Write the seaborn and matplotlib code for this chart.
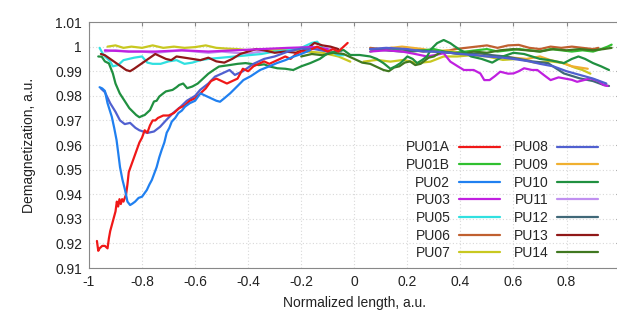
import numpy as np
import pandas as pd
import matplotlib
matplotlib.use("Agg")
import matplotlib.pyplot as plt
import seaborn as sns

nan = np.nan

# demagnetization traces, NaN splits the left/right halves of a sample
pu01a_x = [-0.97, -0.965, -0.96, -0.95, -0.94, -0.93, -0.925, -0.92, -0.91, -0.90, -0.895, -0.89, -0.885,
           -0.88, -0.875, -0.87, -0.86, -0.855, -0.85, -0.84, -0.83, -0.82, -0.81, -0.80, -0.79, -0.78,
           -0.77, -0.76, -0.75, -0.74, -0.72, -0.70, -0.68, -0.66, -0.64, -0.62, -0.60, -0.58, -0.56,
           -0.54, -0.52, -0.50, -0.48, -0.46, -0.44, -0.42, -0.40, -0.38, -0.36, -0.34, -0.32, -0.30,
           -0.28, -0.26, -0.24, -0.22, -0.20, -0.18, -0.16, -0.14, -0.12, -0.10, -0.08, -0.06, -0.04, -0.025]
pu01a_y = [0.921, 0.917, 0.918, 0.919, 0.919, 0.918, 0.922, 0.925, 0.929, 0.933, 0.937, 0.935, 0.938,
           0.936, 0.938, 0.937, 0.940, 0.944, 0.949, 0.952, 0.955, 0.958, 0.961, 0.963, 0.966, 0.965,
           0.968, 0.970, 0.970, 0.971, 0.972, 0.972, 0.973, 0.975, 0.976, 0.978, 0.979, 0.981, 0.983,
           0.986, 0.987, 0.986, 0.985, 0.986, 0.987, 0.991, 0.990, 0.992, 0.993, 0.994, 0.993, 0.994,
           0.995, 0.996, 0.995, 0.997, 0.998, 0.998, 0.999, 1.000, 0.999, 0.998, 0.999, 0.998, 1.000, 1.0015]

pu01b_x = [0.06, 0.10, 0.14, 0.18, 0.22, 0.26, 0.30, 0.34, 0.38, 0.42, 0.46, 0.50, 0.54, 0.58, 0.62,
           0.66, 0.70, 0.74, 0.78, 0.82, 0.86, 0.90, 0.93, 0.955, 0.97]
pu01b_y = [0.998, 0.999, 0.9985, 0.999, 0.998, 0.9985, 0.999, 0.998, 0.9975, 0.998, 0.9985, 0.999, 0.998,
           0.9985, 0.999, 0.9985, 0.998, 0.999, 0.9985, 0.998, 0.9985, 0.998, 0.999, 1.0, 1.0008]

pu02_x = [-0.96, -0.95, -0.94, -0.93, -0.914, -0.905, -0.896, -0.89, -0.883, -0.874, -0.864, -0.855, -0.845,
          -0.836, -0.826, -0.813, -0.80, -0.79, -0.782, -0.772, -0.763, -0.745, -0.735, -0.726, -0.716,
          -0.707, -0.697, -0.688, -0.675, -0.663, -0.65, -0.638, -0.62, -0.60, -0.58, -0.56, -0.54, -0.52,
          -0.506, -0.49, -0.468, -0.44, -0.418, -0.39, -0.355, -0.32, -0.292, -0.26, -0.23, -0.20, -0.166]
pu02_y = [0.9835, 0.983, 0.982, 0.977, 0.9715, 0.967, 0.962, 0.957, 0.951, 0.946, 0.9417, 0.937, 0.9356,
          0.9362, 0.937, 0.9385, 0.939, 0.9405, 0.9417, 0.944, 0.9458, 0.951, 0.955, 0.958, 0.961,
          0.965, 0.967, 0.9695, 0.971, 0.973, 0.974, 0.9756, 0.977, 0.978, 0.981, 0.980, 0.979, 0.978,
          0.9776, 0.979, 0.981, 0.984, 0.9864, 0.988, 0.9905, 0.992, 0.9933, 0.9945, 0.9959, 0.997, 0.9986]

pu03_x = [-0.94, -0.85, -0.75, -0.65, -0.55, -0.45, -0.35, -0.25, -0.16, -0.10, nan,
          0.06, 0.12, 0.18, 0.23, 0.274, 0.30, 0.337, 0.362, 0.39, 0.413, 0.45, 0.475, 0.49, 0.51, 0.53,
          0.55, 0.58, 0.60, 0.62, 0.64, 0.67, 0.69, 0.72, 0.74, 0.77, 0.79, 0.82, 0.84, 0.87, 0.89, 0.92, 0.94, 0.955]
pu03_y = [0.9985, 0.998, 0.998, 0.9985, 0.998, 0.9985, 0.999, 0.9995, 0.9998, 0.999, nan,
          0.998, 0.9985, 0.998, 0.997, 0.996, 0.9965, 0.9973, 0.9939, 0.992, 0.9905, 0.9905, 0.9891, 0.9864, 0.9864, 0.988,
          0.9898, 0.989, 0.9891, 0.990, 0.9912, 0.9905, 0.9905, 0.988, 0.9864, 0.9875, 0.9871, 0.9865, 0.9857, 0.9865, 0.9871, 0.986, 0.9844, 0.984]

pu05_x = [-0.96, -0.95, -0.94, -0.92, -0.91, -0.89, -0.87, -0.85, -0.83, -0.80, -0.78, -0.76, -0.73,
          -0.70, -0.67, -0.64, -0.61, -0.58, -0.55, -0.50, -0.45, -0.40, -0.35, -0.30, -0.25, -0.20,
          -0.16, -0.14, -0.12, -0.09, -0.06, -0.04]
pu05_y = [0.9995, 0.9975, 0.996, 0.994, 0.992, 0.9925, 0.9945, 0.995, 0.9955, 0.996, 0.9935, 0.993, 0.993,
          0.994, 0.9945, 0.993, 0.9935, 0.9945, 0.995, 0.9955, 0.996, 0.9965, 0.997, 0.998, 0.9985, 0.9995,
          1.0015, 1.002, 0.9995, 0.998, 0.9965, 0.9965]

pu06_x = [0.06, 0.10, 0.14, 0.18, 0.22, 0.26, 0.30, 0.34, 0.38, 0.42, 0.46, 0.50, 0.54, 0.58, 0.62,
          0.66, 0.70, 0.74, 0.78, 0.82, 0.86, 0.90, 0.92]
pu06_y = [0.9995, 0.999, 0.9995, 0.999, 0.9985, 0.998, 0.9985, 0.998, 0.999, 0.9995, 1.0, 1.0005, 0.9995,
          1.0005, 1.0007, 0.9995, 0.999, 1.0, 0.9995, 1.0, 0.9995, 0.999, 0.9995]

pu07_x = [-0.93, -0.90, -0.87, -0.84, -0.80, -0.76, -0.72, -0.68, -0.64, -0.60, -0.56, -0.52, -0.48,
          -0.44, -0.40, -0.36, -0.30, -0.24, -0.18, -0.12, -0.06, -0.015, nan,
          0.035, 0.085, 0.136, 0.186, 0.237, 0.287, 0.337, 0.388, 0.44, 0.50, 0.56, 0.62, 0.68, 0.74,
          0.79, 0.83, 0.86, 0.89]
pu07_y = [1.0, 1.0005, 0.9995, 1.0, 0.9995, 1.0005, 0.9995, 1.0, 0.9995, 0.9998, 1.0005, 0.9995, 0.9992,
          0.999, 0.9985, 0.999, 0.9985, 0.9988, 0.998, 0.9975, 0.996, 0.9939, nan,
          0.9939, 0.9946, 0.9939, 0.9946, 0.9933, 0.9939, 0.996, 0.996, 0.9965, 0.996, 0.9946, 0.995, 0.9935, 0.994,
          0.9933, 0.9915, 0.9905, 0.989]

pu08_x = [-0.955, -0.94, -0.92, -0.90, -0.883, -0.865, -0.845, -0.825, -0.81, -0.78, -0.755, -0.732,
          -0.71, -0.683, -0.655, -0.631, -0.60, -0.581, -0.55, -0.525, -0.50, -0.47, -0.45, -0.42, -0.38,
          -0.34, -0.30, -0.25, -0.20, -0.15, -0.10, nan,
          0.06, 0.12, 0.20, 0.26, 0.30, 0.36, 0.40, 0.46, 0.50, 0.56, 0.60, 0.66, 0.70, 0.75, 0.80, 0.85,
          0.90, 0.95]
pu08_y = [0.983, 0.9815, 0.977, 0.9735, 0.970, 0.9685, 0.969, 0.967, 0.966, 0.9649, 0.9655, 0.9674,
          0.970, 0.973, 0.9755, 0.978, 0.980, 0.9824, 0.985, 0.9878, 0.989, 0.9905, 0.9885, 0.990, 0.993,
          0.995, 0.996, 0.998, 0.9992, 0.999, 0.998, nan,
          0.999, 0.9995, 0.999, 0.998, 0.998, 0.9975, 0.997, 0.9965, 0.996, 0.9955, 0.995, 0.994, 0.993,
          0.992, 0.990, 0.9885, 0.987, 0.985]

pu09_x = [0.10, 0.14, 0.18, 0.22, 0.26, 0.30, 0.35, 0.40, 0.45, 0.50, 0.55, 0.60, 0.65, 0.70, 0.74,
          0.78, 0.82, 0.85, 0.88]
pu09_y = [0.999, 0.9995, 1.0, 0.9995, 0.999, 0.998, 0.9985, 0.9975, 0.997, 0.9965, 0.996, 0.9955, 0.995,
          0.996, 0.9945, 0.9935, 0.992, 0.9915, 0.991]

pu10_x = [-0.965, -0.952, -0.94, -0.925, -0.91, -0.90, -0.884, -0.872, -0.86, -0.848, -0.835, -0.822,
          -0.81, -0.80, -0.79, -0.78, -0.77, -0.755, -0.745, -0.735, -0.72, -0.71, -0.685, -0.67, -0.66,
          -0.645, -0.63, -0.61, -0.59, -0.57, -0.55, -0.53, -0.51, -0.49, -0.47, -0.44, -0.41, -0.39,
          -0.36, -0.34, -0.318, -0.29, -0.26, -0.23, -0.20, -0.166, -0.13, -0.10, -0.07, -0.04, -0.015,
          0.02, 0.06, 0.085, 0.11, 0.136, 0.155, 0.174, 0.2, 0.22, 0.237, 0.255, 0.274, 0.29, 0.312,
          0.337, 0.362, 0.38, 0.40, 0.42, 0.44, 0.48, 0.52, 0.56, 0.60, 0.64, 0.67, 0.70, 0.73, 0.76,
          0.79, 0.82, 0.845, 0.87, 0.90, 0.93, 0.96]
pu10_y = [0.996, 0.9959, 0.994, 0.9932, 0.9891, 0.985, 0.981, 0.979, 0.977, 0.975, 0.9736, 0.9722,
          0.9713, 0.9718, 0.9722, 0.9732, 0.9742, 0.9777, 0.978, 0.9797, 0.981, 0.9818, 0.9824, 0.9835, 0.9844,
          0.985, 0.9831, 0.9838, 0.985, 0.987, 0.989, 0.9905, 0.9919, 0.9922, 0.9925, 0.993, 0.9933, 0.993,
          0.9925, 0.9928, 0.9919, 0.9912, 0.991, 0.9905, 0.992, 0.9933, 0.995, 0.9973, 0.998, 0.9986, 0.9966,
          0.9966, 0.996, 0.995, 0.9933, 0.991, 0.992, 0.9933, 0.996, 0.995, 0.9933, 0.9945, 0.996, 0.999, 1.0014,
          1.0027, 1.0014, 1.0, 0.9986, 0.9975, 0.996, 0.995, 0.9935, 0.996, 0.9975, 0.997, 0.996, 0.995, 0.9946, 0.994,
          0.9933, 0.995, 0.996, 0.995, 0.9933, 0.992, 0.9905]

pu11_x = [-0.94, -0.90, -0.85, -0.80, -0.75, -0.70, -0.65, -0.60, -0.55, -0.50, -0.45, -0.40, -0.35,
          -0.30, -0.25, -0.20, -0.16, -0.12, -0.08, -0.05]
pu11_y = [0.998, 0.9985, 0.998, 0.998, 0.9975, 0.998, 0.9985, 0.998, 0.9975, 0.998, 0.9975, 0.9972, 0.998,
          0.9985, 0.999, 0.9995, 1.0, 0.9995, 0.999, 0.998]

pu12_x = [0.06, 0.12, 0.18, 0.24, 0.30, 0.36, 0.42, 0.475, 0.52, 0.57, 0.62, 0.67, 0.73, 0.79, 0.85,
          0.90, 0.94, 0.96]
pu12_y = [0.999, 0.9985, 0.998, 0.9985, 0.998, 0.9975, 0.997, 0.9973, 0.9965, 0.996, 0.995, 0.994, 0.9933,
          0.9891, 0.9871, 0.986, 0.9844, 0.984]

pu13_x = [-0.955, -0.94, -0.92, -0.90, -0.88, -0.86, -0.845, -0.83, -0.81, -0.79, -0.77, -0.75, -0.73,
          -0.71, -0.69, -0.67, -0.64, -0.61, -0.58, -0.55, -0.52, -0.49, -0.46, -0.43, -0.40, -0.37,
          -0.34, -0.30, -0.26, -0.22, -0.18, -0.15, -0.12, -0.09, -0.06]
pu13_y = [0.997, 0.9965, 0.995, 0.9935, 0.992, 0.9905, 0.990, 0.991, 0.9925, 0.994, 0.9955, 0.997, 0.996,
          0.995, 0.9945, 0.996, 0.9955, 0.995, 0.9945, 0.9955, 0.994, 0.9935, 0.995, 0.997, 0.998, 0.999,
          0.9985, 0.9975, 0.998, 0.9975, 0.999, 1.0015, 1.0005, 1.0, 0.999]

pu14_x = [-0.20, -0.16, -0.12, -0.08, -0.04, 0.0, 0.03, 0.06, 0.09, 0.11, 0.13, 0.15, 0.17, 0.19,
          0.21, 0.23, 0.25, 0.28, 0.30, 0.33, 0.36, 0.40, 0.45, 0.50, 0.55, 0.60, 0.65, 0.70, 0.75, 0.80,
          0.85, 0.90, 0.94, 0.97]
pu14_y = [0.996, 0.997, 0.9965, 0.9975, 0.997, 0.995, 0.9935, 0.993, 0.9915, 0.9905, 0.990, 0.9915, 0.992,
          0.9935, 0.994, 0.9925, 0.993, 0.9955, 0.996, 0.998, 0.9975, 0.997, 0.998, 0.9975, 0.9985, 0.999,
          0.9985, 0.998, 0.999, 0.9985, 0.999, 0.9985, 0.999, 0.9995]

labels = ["PU01A", "PU01B", "PU02", "PU03", "PU05", "PU06", "PU07",
          "PU08", "PU09", "PU10", "PU11", "PU12", "PU13", "PU14"]
colors = ["#f01818", "#30c030", "#2080f0", "#c020e0", "#30e0e0", "#c06030", "#c8c820",
          "#5060d0", "#f0b030", "#209040", "#c090f0", "#406878", "#901818", "#407820"]

x_ticks = [-1, -0.8, -0.6, -0.4, -0.2, 0, 0.2, 0.4, 0.6, 0.8, 1]
x_tick_labels = ["-1", "-0.8", "-0.6", "-0.4", "-0.2", "0", "0.2", "0.4", "0.6", "0.8", "1"]
y_ticks = [0.91, 0.92, 0.93, 0.94, 0.95, 0.96, 0.97, 0.98, 0.99, 1.0, 1.01]
y_tick_labels = ["0.91", "0.92", "0.93", "0.94", "0.95", "0.96", "0.97", "0.98", "0.99", "1", "1.01"]

series = {
    "PU01A": (pu01a_x, pu01a_y), "PU01B": (pu01b_x, pu01b_y), "PU02": (pu02_x, pu02_y),
    "PU03": (pu03_x, pu03_y), "PU05": (pu05_x, pu05_y), "PU06": (pu06_x, pu06_y),
    "PU07": (pu07_x, pu07_y), "PU08": (pu08_x, pu08_y), "PU09": (pu09_x, pu09_y),
    "PU10": (pu10_x, pu10_y), "PU11": (pu11_x, pu11_y), "PU12": (pu12_x, pu12_y),
    "PU13": (pu13_x, pu13_y), "PU14": (pu14_x, pu14_y),
}

rows = []
for name, (xs, ys) in series.items():
    seg = 0
    for xv, yv in zip(xs, ys):
        if np.isnan(xv):
            seg += 1
            continue
        rows.append({"sample": name, "seg": f"{name}_{seg}", "x": xv, "y": yv})
df = pd.DataFrame(rows)

sns.set_style("white")
plt.rcParams["font.family"] = ["Liberation Sans", "DejaVu Sans"]

fig = plt.figure(figsize=(6.17, 3.21), dpi=100)
ax = fig.add_axes([0.1442, 0.165, 0.86, 0.7664])

# draw order: later entries on top
draw_order = ["PU11", "PU07", "PU06", "PU09", "PU01B", "PU05", "PU13", "PU12", "PU03",
              "PU14", "PU10", "PU08", "PU01A", "PU02"]
pal = dict(zip(labels, colors))
for name in draw_order:
    sub = df[df["sample"] == name]
    sns.lineplot(data=sub, x="x", y="y", units="seg", estimator=None, sort=False,
                 color=pal[name], linewidth=1.6, ax=ax, legend=False)

handles = [plt.Line2D([], [], color=c, linewidth=1.6) for c in colors]
ax.legend(handles, labels, ncol=2, markerfirst=False, frameon=False, fontsize=10,
          handlelength=2.9, handletextpad=0.65, columnspacing=1.0, labelspacing=0.26,
          borderpad=0, loc="lower right", bbox_to_anchor=(0.98, 0.168),
          bbox_transform=fig.transFigure)

ax.set_xlim(-1, 1)
ax.set_ylim(0.91, 1.01)
ax.set_xticks(x_ticks)
ax.set_xticklabels(x_tick_labels)
ax.set_yticks(y_ticks)
ax.set_yticklabels(y_tick_labels)
ax.grid(True, color="#d8d8d8", linestyle=(0, (1, 2)), linewidth=0.8)
ax.tick_params(direction="in", length=3, top=True, right=True, labelsize=10,
               colors="#888888", labelcolor="#222222", pad=5)
for sp in ax.spines.values():
    sp.set_color("#888888")
    sp.set_linewidth(0.8)

ax.set_xlabel("Normalized length, a.u.", fontsize=10, color="#222222", labelpad=5)
ax.set_ylabel("Demagnetization, a.u.", fontsize=10, color="#222222", labelpad=14)

fig.savefig("out.png", dpi=100)
